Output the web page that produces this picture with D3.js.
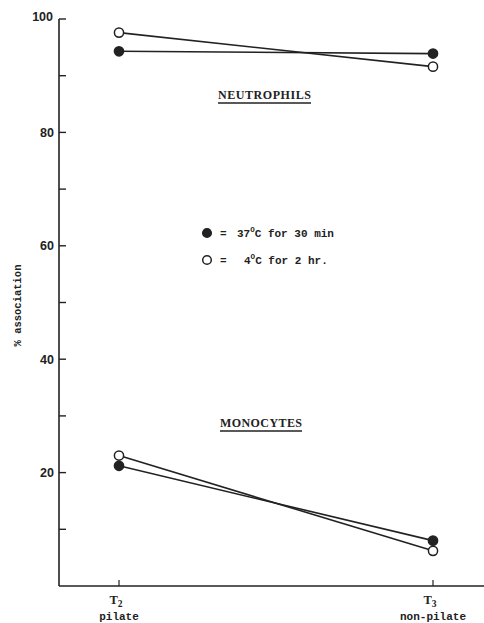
<!DOCTYPE html>
<html>
<head>
<meta charset="utf-8">
<script src="https://cdn.jsdelivr.net/npm/d3@7"></script>
<style>
  body { margin: 0; background: #fff; }
  svg { display: block; }
  text { fill: #222; }
</style>
</head>
<body>
<svg id="chart" width="484" height="623"></svg>
<script>
// Categories on the x axis (subscript number, caption)
const categories = ["T2", "T3"];
const categorySub = ["2", "3"];
const categoryCaption = ["pilate", "non-pilate"];

// % association for each cell type and incubation condition
const neutro37 = [94.3, 93.9];
const neutro4 = [97.6, 91.6];
const mono37 = [21.2, 8.0];
const mono4 = [23.0, 6.2];

const yMajorTicks = [20, 40, 60, 80, 100];
const yMinorTicks = [10, 30, 50, 70, 90];

const svg = d3.select("#chart");
const ink = "#222";

const x = d3.scalePoint().domain(categories).range([119, 433]);
const y = d3.scaleLinear().domain([0, 100]).range([586, 19]);

const axisLeftX = 59;

// y axis
const yAxis = svg.append("g").attr("transform", `translate(${axisLeftX},0)`);
yAxis.append("line")
  .attr("x1", 0).attr("x2", 0).attr("y1", y(100)).attr("y2", y(0))
  .attr("stroke", ink).attr("stroke-width", 1.6);
yAxis.selectAll("line.tick").data(yMajorTicks.concat(yMinorTicks)).join("line")
  .attr("class", "tick")
  .attr("x1", 0).attr("x2", 7).attr("y1", d => y(d)).attr("y2", d => y(d))
  .attr("stroke", ink).attr("stroke-width", 1.4);
yAxis.selectAll("text").data(yMajorTicks).join("text")
  .attr("x", d => d === 100 ? -6 : -5)
  .attr("y", d => d === 100 ? y(d) - 2 : y(d))
  .attr("dy", "0.35em")
  .attr("text-anchor", "end")
  .attr("font-family", "Liberation Sans, Arial, sans-serif")
  .attr("font-weight", "bold")
  .attr("font-size", 12.5)
  .text(d => d);

// x axis
const xAxis = svg.append("g");
xAxis.append("line")
  .attr("x1", axisLeftX).attr("x2", 484).attr("y1", y(0)).attr("y2", y(0))
  .attr("stroke", ink).attr("stroke-width", 1.6);
xAxis.selectAll("line.tick").data(categories).join("line")
  .attr("class", "tick")
  .attr("x1", d => x(d)).attr("x2", d => x(d))
  .attr("y1", y(0)).attr("y2", y(0) - 6)
  .attr("stroke", ink).attr("stroke-width", 1.2);
const catLabels = xAxis.selectAll("text.cat").data(categories).join("text")
  .attr("class", "cat")
  .attr("x", d => x(d) - 3)
  .attr("y", 604)
  .attr("text-anchor", "middle")
  .attr("font-family", "Liberation Serif, serif")
  .attr("font-weight", "bold")
  .attr("font-size", 12.5);
catLabels.append("tspan").text("T");
catLabels.append("tspan").attr("dy", 3).attr("font-size", 9.5).text((d, i) => categorySub[i]);
xAxis.selectAll("text.cap").data(categories).join("text")
  .attr("class", "cap")
  .attr("x", d => x(d))
  .attr("y", 620)
  .attr("text-anchor", "middle")
  .attr("font-family", "Liberation Mono, monospace")
  .attr("font-weight", "bold")
  .attr("font-size", 11)
  .text((d, i) => categoryCaption[i]);

// y axis title
svg.append("text")
  .attr("transform", `translate(21,${y(50) + 3}) rotate(-90)`)
  .attr("text-anchor", "middle")
  .attr("font-family", "Liberation Mono, monospace")
  .attr("font-weight", "bold")
  .attr("font-size", 10.5)
  .text("% association");

// series lines and markers
const series = [
  { values: neutro37, filled: true },
  { values: neutro4, filled: false },
  { values: mono37, filled: true },
  { values: mono4, filled: false }
];
const line = d3.line().x((d, i) => x(categories[i])).y(d => y(d));
svg.selectAll("path.series").data(series).join("path")
  .attr("class", "series")
  .attr("d", s => line(s.values))
  .attr("fill", "none").attr("stroke", ink).attr("stroke-width", 1.6);
series.forEach(s => {
  svg.selectAll(null).data(s.values).join("circle")
    .attr("cx", (d, i) => x(categories[i]))
    .attr("cy", d => y(d))
    .attr("r", 4.6)
    .attr("fill", s.filled ? ink : "#fff")
    .attr("stroke", ink).attr("stroke-width", 1.5);
});

// group titles, underlined
function groupTitle(label, cx, cy, width) {
  svg.append("text")
    .attr("x", cx).attr("y", cy)
    .attr("font-family", "Liberation Serif, serif")
    .attr("font-weight", "bold")
    .attr("font-size", 12)
    .attr("textLength", width)
    .attr("lengthAdjust", "spacing")
    .text(label);
  svg.append("line")
    .attr("x1", cx).attr("x2", cx + width)
    .attr("y1", cy + 4).attr("y2", cy + 4)
    .attr("stroke", ink).attr("stroke-width", 1.6);
}
groupTitle("NEUTROPHILS", 218, 99, 93);
groupTitle("MONOCYTES", 220, 427, 82);

// legend
const legend = svg.append("g").attr("font-family", "Liberation Mono, monospace")
  .attr("font-weight", "bold").attr("font-size", 11);
const legendItems = [
  { filled: true, deg: "37", rest: "C for 30 min", cy: 233, numX: 237 },
  { filled: false, deg: "4", rest: "C for 2 hr.", cy: 260, numX: 244 }
];
legendItems.forEach(it => {
  legend.append("circle").attr("cx", 207).attr("cy", it.cy).attr("r", 4.3)
    .attr("fill", it.filled ? ink : "#fff").attr("stroke", ink).attr("stroke-width", 1.5);
  legend.append("text").attr("x", 220).attr("y", it.cy + 4).text("=");
  const t = legend.append("text").attr("x", it.numX).attr("y", it.cy + 4);
  t.append("tspan").text(it.deg);
  t.append("tspan").attr("dy", -5).attr("font-size", 7.5).text("O");
  t.append("tspan").attr("dy", 5).text(it.rest);
});
</script>
</body>
</html>
